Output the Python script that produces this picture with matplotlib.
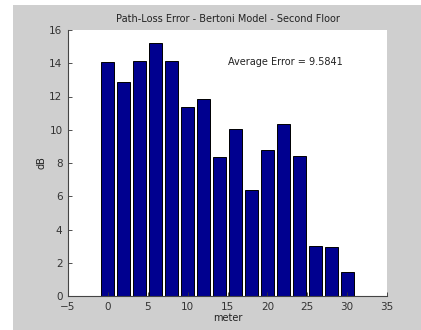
import matplotlib
matplotlib.use("Agg")
import matplotlib.pyplot as plt
from matplotlib.patches import Rectangle
import numpy as np

# distancia (m) y error de path-loss (dB)
meters = np.arange(0, 32, 2)
error_db = [14.05, 12.9, 14.12, 15.22, 14.12, 11.38, 11.85, 8.34,
            10.06, 6.37, 8.77, 10.33, 8.41, 3.02, 2.96, 1.43]
xticks = [-5, 0, 5, 10, 15, 20, 25, 30, 35]
yticks = [0, 2, 4, 6, 8, 10, 12, 14, 16]
avg_label = "Average Error = 9.5841"

GREY = "#cfcfcf"
fig = plt.figure(figsize=(4.21, 3.30), dpi=100, facecolor="white")
fig.patches.append(Rectangle((13 / 421, 0), 1, 1 - 5 / 330, transform=fig.transFigure,
                             facecolor=GREY, edgecolor="none", zorder=-10))
ax = fig.add_axes([68 / 421, 1 - 296 / 330, (387 - 68) / 421, (296 - 30) / 330])

ax.bar(meters, error_db, width=1.6, color="#00008f", edgecolor="black", linewidth=0.7)
ax.text(15, 14.05, avg_label, fontsize=7, va="center", ha="left", color="#222222")

ax.set_xlim(-5, 35); ax.set_ylim(0, 16)
ax.set_xticks(xticks); ax.set_yticks(yticks)
ax.tick_params(direction="in", labelsize=7.5, length=3, width=0.6, colors="#333333", pad=4)
for s in ("top", "right"):
    ax.spines[s].set_visible(False)
for s in ("left", "bottom"):
    ax.spines[s].set_linewidth(0.8); ax.spines[s].set_color("#444444")
ax.set_title("Path-Loss Error - Bertoni Model - Second Floor", fontsize=7, pad=6, color="#222222")
ax.set_xlabel("meter", fontsize=7, labelpad=1, color="#222222")
ax.set_ylabel("dB", fontsize=7, labelpad=2, color="#222222")

fig.savefig("out.png", dpi=100, facecolor=fig.get_facecolor())
